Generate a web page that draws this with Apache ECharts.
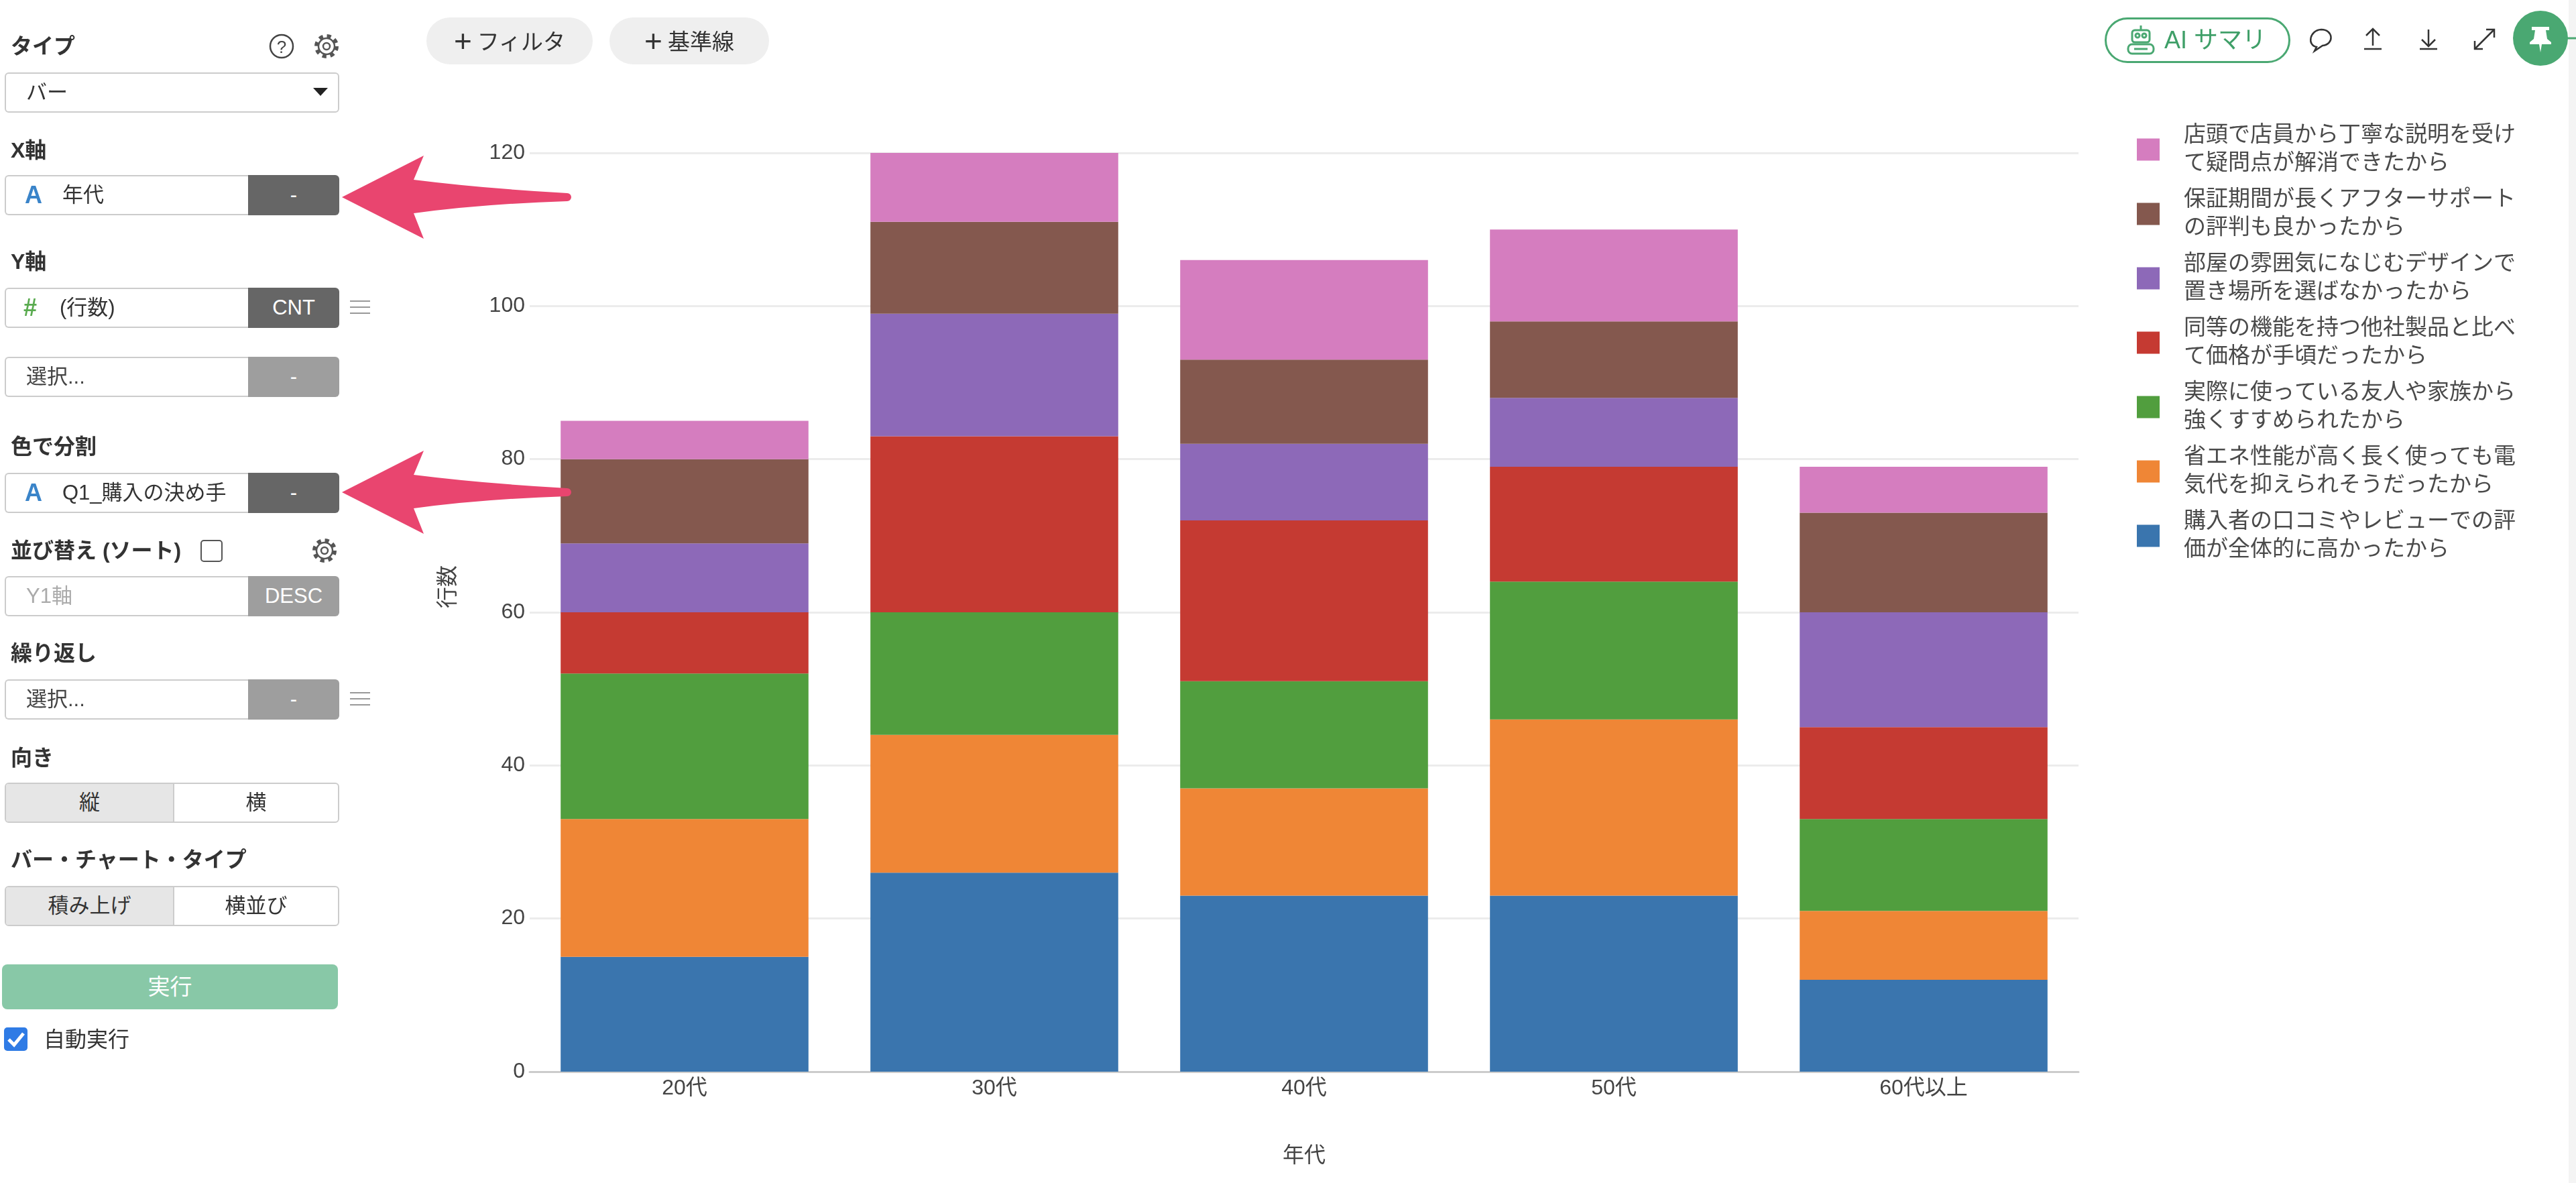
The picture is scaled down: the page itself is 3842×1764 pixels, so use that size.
<!DOCTYPE html>
<html>
    <head>
        <meta charset="utf-8">
        <title></title>
        <style>
            html, body{
                margin: 0;
                padding: 0;
                width: 3842px;
                height: 1764px;
                overflow: hidden;
                background: #fff;
                font-family: "Liberation Sans", Arial, "Noto Sans CJK JP", sans-serif;
                color: #333;
            }
            #div{
                position: absolute;
                left: 0;
                top: 0;
                width: 3842px;
                height: 1764px;
            }
            .lbl{
                position: absolute;
                left: 16px;
                font-size: 32px;
                font-weight: bold;
                line-height: 40px;
                color: #333;
                white-space: nowrap;
            }
            .sel{
                position: absolute;
                left: 7px;
                width: 495px;
                height: 56px;
                border: 2px solid #ccc;
                border-radius: 6px;
                background: #fff;
                font-size: 31px;
                line-height: 56px;
            }
            .field{
                position: absolute;
                left: 7px;
                width: 499px;
                height: 60px;
            }
            .field .l{
                position: absolute;
                left: 0;
                top: 0;
                width: 361px;
                height: 56px;
                border: 2px solid #ccc;
                border-right: none;
                border-radius: 6px 0 0 6px;
                background: #fff;
                font-size: 31px;
                line-height: 56px;
                white-space: nowrap;
                overflow: hidden;
            }
            .field .r{
                position: absolute;
                left: 363px;
                top: 0;
                width: 136px;
                height: 60px;
                border-radius: 0 6px 6px 0;
                background: #666;
                color: #fff;
                text-align: center;
                font-size: 31px;
                line-height: 60px;
            }
            .field .r.light{ background: #9e9e9e; }
            .ic{
                position: absolute;
                font-weight: bold;
                font-size: 36px;
            }
            .tog{
                position: absolute;
                left: 7px;
                width: 495px;
                height: 56px;
                border: 2px solid #ccc;
                border-radius: 6px;
                overflow: hidden;
                font-size: 31px;
                line-height: 56px;
            }
            .tog div{
                position: absolute;
                top: 0;
                height: 56px;
                text-align: center;
            }
            .pill{
                position: absolute;
                top: 26px;
                height: 70px;
                border-radius: 35px;
                background: #efefef;
                font-size: 33px;
                line-height: 70px;
                text-align: center;
                color: #333;
            }
            .pill b{
                font-size: 46px;
                font-weight: normal;
                vertical-align: -3px;
                margin-right: 8px;
            }
            #overlay{
                position: absolute;
                left: 0;
                top: 0;
                pointer-events: none;
            }
        </style>
    </head>
    <body>
        <div id="div"></div>

        <!-- left settings panel -->
        <div class="lbl" style="top:49px">タイプ</div>
        <div class="sel" style="top:108px"><span style="position:absolute;left:30px">バー</span></div>

        <div class="lbl" style="top:204px">X軸</div>
        <div class="field" style="top:261px">
            <div class="l"><span class="ic" style="left:28px;color:#3a84c9">A</span><span style="position:absolute;left:84px">年代</span></div>
            <div class="r">-</div>
        </div>

        <div class="lbl" style="top:370px">Y軸</div>
        <div class="field" style="top:429px">
            <div class="l"><span class="ic" style="left:26px;color:#5aab50">#</span><span style="position:absolute;left:80px">(行数)</span></div>
            <div class="r">CNT</div>
        </div>
        <div class="field" style="top:532px">
            <div class="l"><span style="position:absolute;left:30px;color:#444">選択...</span></div>
            <div class="r light">-</div>
        </div>

        <div class="lbl" style="top:646px">色で分割</div>
        <div class="field" style="top:705px">
            <div class="l"><span class="ic" style="left:28px;color:#3a84c9">A</span><span style="position:absolute;left:84px">Q1_購入の決め手</span></div>
            <div class="r">-</div>
        </div>

        <div class="lbl" style="top:801px">並び替え (ソート)</div>
        <div style="position:absolute;left:299px;top:805px;width:29px;height:29px;border:2.5px solid #555;border-radius:5px"></div>
        <div class="field" style="top:859px">
            <div class="l"><span style="position:absolute;left:30px;color:#aaa">Y1軸</span></div>
            <div class="r light">DESC</div>
        </div>

        <div class="lbl" style="top:954px">繰り返し</div>
        <div class="field" style="top:1013px">
            <div class="l"><span style="position:absolute;left:30px;color:#444">選択...</span></div>
            <div class="r light">-</div>
        </div>

        <div class="lbl" style="top:1110px">向き</div>
        <div class="tog" style="top:1167px">
            <div style="left:0;width:249px;background:#e6e6e6;border-right:2px solid #ccc">縦</div>
            <div style="left:251px;width:244px">横</div>
        </div>

        <div class="lbl" style="top:1262px">バー・チャート・タイプ</div>
        <div class="tog" style="top:1321px">
            <div style="left:0;width:249px;background:#e6e6e6;border-right:2px solid #ccc">積み上げ</div>
            <div style="left:251px;width:244px">横並び</div>
        </div>

        <div style="position:absolute;left:3px;top:1438px;width:501px;height:67px;border-radius:8px;background:#88c8a7;color:#fff;font-size:33px;line-height:67px;text-align:center">実行</div>
        <div style="position:absolute;left:6px;top:1532px;width:35px;height:35px;border-radius:5px;background:#2f7be5"></div>
        <div style="position:absolute;left:65px;top:1530px;font-size:32px;line-height:40px;color:#333">自動実行</div>

        <!-- toolbar -->
        <div class="pill" style="left:636px;width:248px"><b>+</b>フィルタ</div>
        <div class="pill" style="left:909px;width:238px"><b>+</b>基準線</div>
        <div style="position:absolute;left:3139px;top:26px;width:271px;height:62px;border:3px solid #4aa872;border-radius:34px"></div>
        <div style="position:absolute;left:3228px;top:30px;font-size:36px;line-height:60px;color:#3f9f68">AI サマリ</div>
        <div style="position:absolute;left:3831px;top:0;width:11px;height:1764px;background:#f4f4f4"></div>

        <svg id="overlay" width="3842" height="1764" xmlns="http://www.w3.org/2000/svg">
            <!-- help and gear icons -->
            <circle cx="420" cy="69" r="17" fill="none" stroke="#444" stroke-width="2.5"/>
            <text x="420" y="79" font-size="26" text-anchor="middle" fill="#444" font-family="Liberation Sans">?</text>
            <g fill="none" stroke="#555">
                <circle cx="487" cy="69" r="15" stroke-width="6" stroke-dasharray="6 5.8"/>
                <circle cx="487" cy="69" r="12" stroke-width="2.5" fill="#fff"/>
                <circle cx="487" cy="69" r="5" stroke-width="2.5"/>
                <circle cx="484" cy="821" r="15" stroke-width="6" stroke-dasharray="6 5.8"/>
                <circle cx="484" cy="821" r="12" stroke-width="2.5" fill="#fff"/>
                <circle cx="484" cy="821" r="5" stroke-width="2.5"/>
            </g>
            <path d="M467,131 L489,131 L478,143 Z" fill="#222"/>
            <!-- hamburger icons -->
            <g stroke="#999" stroke-width="2">
                <line x1="522" y1="449" x2="552" y2="449"/><line x1="522" y1="458" x2="552" y2="458"/><line x1="522" y1="467" x2="552" y2="467"/>
                <line x1="522" y1="1033" x2="552" y2="1033"/><line x1="522" y1="1042" x2="552" y2="1042"/><line x1="522" y1="1051" x2="552" y2="1051"/>
            </g>
            <!-- checkbox tick -->
            <path d="M13,1550 L21,1558 L35,1541" fill="none" stroke="#fff" stroke-width="5"/>
            <!-- robot icon -->
            <g fill="none" stroke="#4aa872" stroke-width="3">
                <line x1="3193" y1="38" x2="3193" y2="45"/>
                <rect x="3180" y="45" width="26" height="18" rx="4"/>
                <circle cx="3188" cy="53" r="3"/><circle cx="3198" cy="53" r="3"/>
                <rect x="3174" y="66" width="38" height="14" rx="6"/>
                <line x1="3183" y1="73" x2="3203" y2="73"/>
            </g>
            <!-- toolbar icons -->
            <g fill="none" stroke="#333" stroke-width="2.5">
                <path d="M3455,70 C3441,68 3444,45 3462,44 C3480,44 3482,66 3464,68 L3452,76 Z"/>
                <line x1="3539" y1="44" x2="3539" y2="68"/><path d="M3529,53 L3539,43 L3549,53"/><line x1="3526" y1="73" x2="3552" y2="73"/>
                <line x1="3622" y1="44" x2="3622" y2="68"/><path d="M3612,59 L3622,69 L3632,59"/><line x1="3609" y1="73" x2="3635" y2="73"/>
                <line x1="3691" y1="73" x2="3720" y2="44"/><path d="M3708,44 L3720,44 L3720,56"/><path d="M3691,61 L3691,73 L3703,73"/>
            </g>
            <line x1="3828" y1="57" x2="3842" y2="57" stroke="#4aa872" stroke-width="3"/>
            <circle cx="3789" cy="57" r="41" fill="#4aa872"/>
            <path d="M3776,40 L3802,40 L3802,45 L3797,45 L3799,58 L3805,63 L3805,66 L3773,66 L3773,63 L3779,58 L3781,45 L3776,45 Z" fill="#fff"/>
            <path d="M3787,66 L3791,66 L3789,78 Z" fill="#fff"/>
            <!-- pointer arrows -->
            <g fill="#e9456f">
                <path transform="translate(0,294)" d="M510,0 L632,-62 L617,-26 Q720,-13 846,-6 A6,6 0 0 1 846,6 Q720,10 617,24 L632,62 Z"/>
                <path transform="translate(0,734)" d="M510,0 L632,-62 L617,-26 Q720,-13 846,-6 A6,6 0 0 1 846,6 Q720,10 617,24 L632,62 Z"/>
            </g>
        </svg>

        <script src="https://cdn.jsdelivr.net/npm/echarts@6.0.0/dist/echarts.min.js"></script>
        <script>
            var ages = ['20代', '30代', '40代', '50代', '60代以上'];
            var yTicks = [0, 20, 40, 60, 80, 100, 120];

            // reasons, bottom of the stack first
            var reasons = [
                '購入者の口コミやレビューでの評価が全体的に高かったから',
                '省エネ性能が高く長く使っても電気代を抑えられそうだったから',
                '実際に使っている友人や家族から強くすすめられたから',
                '同等の機能を持つ他社製品と比べて価格が手頃だったから',
                '部屋の雰囲気になじむデザインで置き場所を選ばなかったから',
                '保証期間が長くアフターサポートの評判も良かったから',
                '店頭で店員から丁寧な説明を受けて疑問点が解消できたから'
            ];
            var colors = ['#3a75ae', '#ef8636', '#519e3e', '#c53a32', '#8d69b8', '#84584e', '#d57dbf'];

            var review = [15, 26, 23, 23, 12];
            var energy = [18, 18, 14, 23, 9];
            var friends = [19, 16, 14, 18, 12];
            var price = [8, 23, 21, 15, 12];
            var design = [9, 16, 10, 9, 15];
            var support = [11, 12, 11, 10, 13];
            var store = [5, 9, 13, 12, 6];
            var values = [review, energy, friends, price, design, support, store];

            var font = '"Liberation Sans", Arial, "Noto Sans CJK JP", sans-serif';
            var series = [];
            for(var i = 0; i < reasons.length; i++){
                series.push({
                    name: reasons[i],
                    type: 'bar',
                    stack: 'total',
                    barCategoryGap: '20%',
                    itemStyle: {color: colors[i]},
                    data: values[i]
                });
            }

            var myChart = echarts.init(document.getElementById('div'));
            var option = {
                animation: false,
                color: colors,
                textStyle: {fontFamily: font},
                grid: {left: 790, top: 228, width: 2310, height: 1370, containLabel: false},
                legend: {
                    orient: 'vertical',
                    left: 3182,
                    top: 176,
                    icon: 'rect',
                    itemWidth: 34,
                    itemHeight: 33,
                    itemGap: 12,
                    data: reasons.slice().reverse(),
                    textStyle: {
                        fontFamily: font,
                        fontSize: 33,
                        lineHeight: 42,
                        color: '#4a4a4a',
                        width: 505,
                        overflow: 'break',
                        padding: [0, 0, 0, 31]
                    }
                },
                xAxis: {
                    type: 'category',
                    data: ages,
                    name: '年代',
                    nameLocation: 'middle',
                    nameGap: 110,
                    nameTextStyle: {fontSize: 32, color: '#444'},
                    axisLine: {lineStyle: {color: '#ccc', width: 3}},
                    axisTick: {show: false},
                    axisLabel: {fontSize: 32, color: '#444', margin: 9}
                },
                yAxis: {
                    type: 'value',
                    min: yTicks[0],
                    max: yTicks[yTicks.length - 1],
                    interval: yTicks[1] - yTicks[0],
                    name: '行数',
                    nameLocation: 'middle',
                    nameGap: 105,
                    nameTextStyle: {fontSize: 32, color: '#444', padding: [0, 0, 0, 76]},
                    axisLine: {show: false},
                    axisTick: {show: false},
                    axisLabel: {fontSize: 32, color: '#444', margin: 7},
                    splitLine: {lineStyle: {color: '#ececec', width: 3}}
                },
                series: series
            };
            option && myChart.setOption(option);
        </script>
    </body>
</html>
